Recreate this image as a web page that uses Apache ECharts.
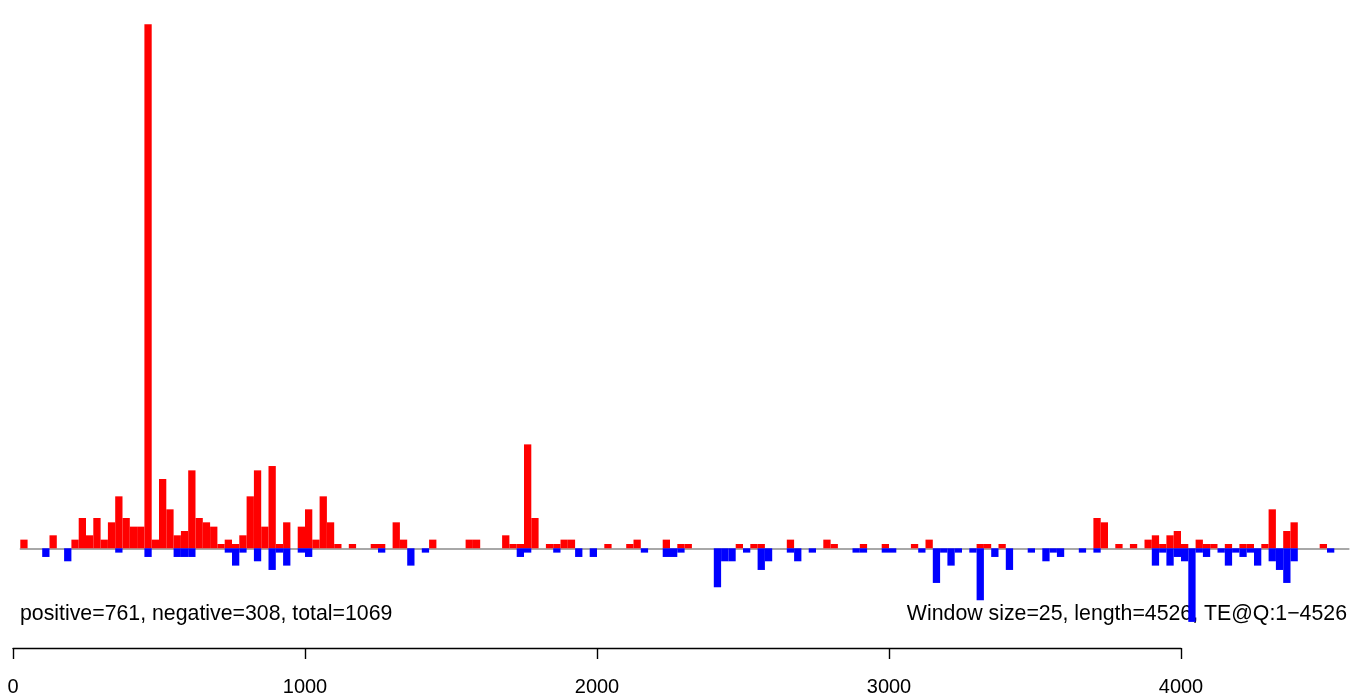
<!DOCTYPE html>
<html>
<head>
<meta charset="utf-8">
<script src="https://cdn.jsdelivr.net/npm/echarts@6/dist/echarts.min.js"></script>
<style>
  html, body { margin: 0; padding: 0; background: #ffffff; }
  #chart { width: 1366px; height: 697px; }
</style>
</head>
<body>
<div id="chart"></div>
<script>
// ---- data ----
const windowSize = 25;
const seqLength = 4526;
// read counts per 25-bp window, positive strand (red, above the line)
const positiveCounts = [
  2,0,0,0,3,0,0,2,7,3,
  7,2,6,12,7,5,5,121,2,16,
  9,3,4,18,7,6,5,1,2,1,
  3,12,18,5,19,1,6,0,5,9,
  2,12,6,1,0,1,0,0,1,1,
  0,6,2,0,0,0,2,0,0,0,
  0,2,2,0,0,0,3,1,1,24,
  7,0,1,1,2,2,0,0,0,0,
  1,0,0,1,2,0,0,0,2,0,
  1,1,0,0,0,0,0,0,1,0,
  1,1,0,0,0,2,0,0,0,0,
  2,1,0,0,0,1,0,0,1,0,
  0,0,1,0,2,0,0,0,0,0,
  0,1,1,0,1,0,0,0,0,0,
  0,0,0,0,0,0,0,7,6,0,
  1,0,1,0,2,3,1,3,4,1,
  0,2,1,1,0,1,0,1,1,0,
  1,9,0,4,6,0,0,0,1,0,
  0,0
];
// read counts per window, negative strand (blue, below the line)
const negativeCounts = [
  0,0,0,2,0,0,3,0,0,0,
  0,0,0,1,0,0,0,2,0,0,
  0,2,2,2,0,0,0,0,1,4,
  1,0,3,0,5,1,4,0,1,2,
  0,0,0,0,0,0,0,0,0,1,
  0,0,0,4,0,1,0,0,0,0,
  0,0,0,0,0,0,0,0,2,1,
  0,0,0,1,0,0,2,0,2,0,
  0,0,0,0,0,1,0,0,2,2,
  1,0,0,0,0,9,3,3,0,1,
  0,5,3,0,0,1,3,0,1,0,
  0,0,0,0,1,1,0,0,1,1,
  0,0,0,1,0,8,1,4,1,0,
  1,12,0,2,0,5,0,0,1,0,
  3,1,2,0,0,1,0,1,0,0,
  0,0,0,0,0,4,1,4,2,3,
  17,1,2,0,1,4,1,2,1,4,
  0,3,5,8,3,0,0,0,0,1,
  0,0
];
const positionTicks = [0, 1000, 2000, 3000, 4000];
const leftNote = 'positive=761, negative=308, total=1069';
const rightNote = 'Window size=25, length=4526, TE@Q:1\u22124526';

// window start positions (categories)
const windowStarts = positiveCounts.map((_, i) => String((i + 1) * windowSize));

// ---- layout ----
const pxPerBp = 0.292;
const x0 = 13;              // pixel of position 0
const yZero = 548.3;        // pixel of the zero line
const pxPerRead = 4.33;
const yMax = 121, yMin = -20;

const chart = echarts.init(document.getElementById('chart'), null, { renderer: 'canvas' });
const font = '"Liberation Sans", Arial, Helvetica, sans-serif';

chart.setOption({
  animation: false,
  backgroundColor: '#ffffff',
  grid: [
    {
      left: x0 + windowSize * pxPerBp,
      width: windowStarts.length * windowSize * pxPerBp,
      top: yZero - yMax * pxPerRead,
      height: (yMax - yMin) * pxPerRead,
      containLabel: false
    },
    {
      left: x0,
      width: positionTicks[positionTicks.length - 1] * pxPerBp,
      top: 647,
      height: 1,
      containLabel: false
    }
  ],
  xAxis: [
    {
      gridIndex: 0,
      type: 'category',
      data: windowStarts,
      boundaryGap: true,
      axisLine: { show: true, onZero: true, lineStyle: { color: '#8c8c8c', width: 1.5 } },
      axisTick: { show: false },
      axisLabel: { show: false },
      splitLine: { show: false }
    },
    {
      gridIndex: 1,
      type: 'value',
      position: 'bottom',
      min: positionTicks[0],
      max: positionTicks[positionTicks.length - 1],
      interval: 1000,
      axisLine: { show: true, lineStyle: { color: '#000', width: 1.4 } },
      axisTick: { show: true, length: 11, lineStyle: { color: '#000', width: 1.4 } },
      axisLabel: {
        show: true, margin: 29, color: '#000', fontSize: 20, fontFamily: font,
        formatter: v => String(v)
      },
      splitLine: { show: false }
    }
  ],
  yAxis: [
    { gridIndex: 0, type: 'value', min: yMin, max: yMax, show: false, splitLine: { show: false } },
    { gridIndex: 1, type: 'value', show: false, splitLine: { show: false } }
  ],
  series: [
    {
      name: 'positive',
      type: 'bar',
      xAxisIndex: 0, yAxisIndex: 0,
      data: positiveCounts,
      barCategoryGap: '0%',
      barGap: '-100%',
      itemStyle: { color: '#ff0000' },
      z: 5,
      silent: true
    },
    {
      name: 'negative',
      type: 'bar',
      xAxisIndex: 0, yAxisIndex: 0,
      data: negativeCounts.map(v => -v),
      barCategoryGap: '0%',
      barGap: '-100%',
      itemStyle: { color: '#0000ff' },
      z: 5,
      silent: true
    }
  ],
  graphic: [
    {
      type: 'text', left: 20, top: 603.5, z: 1,
      style: { text: leftNote, fill: '#000', font: '21.3px ' + font }
    },
    {
      type: 'text', right: 19, top: 603.5, z: 1,
      style: { text: rightNote, fill: '#000', font: '21.3px ' + font }
    }
  ]
});
</script>
</body>
</html>
